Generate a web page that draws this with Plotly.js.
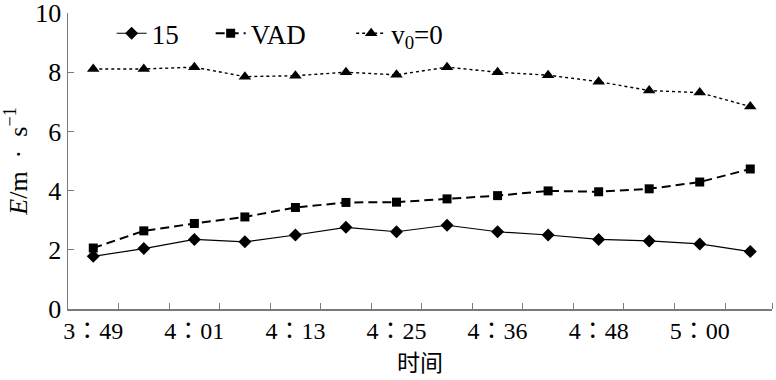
<!DOCTYPE html>
<html>
<head>
<meta charset="utf-8">
<script src="https://cdn.plot.ly/plotly-3.0.1.min.js"></script>
<style>html,body{margin:0;padding:0;background:#fff;}#chart{width:776px;height:380px;}</style>
</head>
<body>
<div id="chart"></div>
<script>
// time stamps of the 14 observations (every other one labelled on the axis)
const times = ['3∶49','3∶55','4∶01','4∶07','4∶13','4∶19','4∶25','4∶30','4∶36','4∶42','4∶48','4∶54','5∶00','5∶06'];
const series15 = [1.78, 2.04, 2.35, 2.27, 2.50, 2.76, 2.61, 2.83, 2.61, 2.50, 2.35, 2.30, 2.20, 1.94];
const seriesVAD = [2.06, 2.64, 2.89, 3.11, 3.43, 3.60, 3.61, 3.72, 3.83, 3.99, 3.96, 4.06, 4.29, 4.73];
const seriesV0 = [8.11, 8.11, 8.17, 7.85, 7.88, 8.00, 7.91, 8.17, 8.00, 7.90, 7.68, 7.38, 7.31, 6.84];
const names = ['15', 'VAD', 'v<sub>0</sub>=0'];

const xIdx = times.map((t, i) => i);
const labelIdx = xIdx.filter(i => i % 2 === 0);
const labelText = labelIdx.map(i => times[i]);
const boundaries = xIdx.slice(1).map(i => i - 0.5);
boundaries.push(13.43);

const FONT = 'Liberation Serif, Times New Roman, Noto Sans CJK SC, serif';
const AX = '#7a7a7a';
const PAD1 = '\u00a0\u00a0\u00a0\u00a0';
const PAD2 = '\u00a0\u00a0\u00a0\u00a0\u00a0\u00a0';

const traces = [
  {x: xIdx, y: series15, name: names[0] + PAD1, mode: 'lines+markers', type: 'scatter',
   line: {color: '#000', width: 1.2}, marker: {symbol: 'diamond', size: 10, color: '#000'}},
  {x: xIdx, y: seriesVAD, name: names[1] + PAD2, mode: 'lines+markers', type: 'scatter',
   line: {color: '#000', width: 2, dash: '9px,5px'}, marker: {symbol: 'square', size: 9, color: '#000'}},
  {x: xIdx, y: seriesV0, name: names[2], mode: 'lines+markers', type: 'scatter',
   line: {color: '#000', width: 1.4, dash: '3px,3px'}, marker: {symbol: 'triangle-up', size: 11, color: '#000'}}
];

const layout = {
  width: 776, height: 380,
  margin: {l: 68, r: 4, t: 13, b: 71},
  paper_bgcolor: '#fff', plot_bgcolor: '#fff',
  font: {family: FONT, size: 26, color: '#000'},
  showlegend: true,
  legend: {orientation: 'h', x: 0.062, y: 0.93, xanchor: 'left', yanchor: 'middle',
           bgcolor: 'rgba(0,0,0,0)', font: {family: FONT, size: 27, color: '#000'},
           itemwidth: 30, tracegroupgap: 0},
  xaxis: {
    range: [-0.5, 13.43], showgrid: false, zeroline: false,
    showline: true, linecolor: AX, linewidth: 1.5,
    tickmode: 'array', tickvals: labelIdx, ticktext: labelText, ticks: '',
    tickfont: {family: FONT, size: 24, color: '#000'},
    minor: {tickmode: 'array', tickvals: boundaries, ticks: 'inside', ticklen: 6, tickwidth: 1, tickcolor: AX, showgrid: false},
    title: {text: '时间', font: {family: 'Noto Sans CJK SC', size: 23, color: '#000'}, standoff: 8}
  },
  yaxis: {
    range: [0, 10], dtick: 2, showgrid: false, zeroline: false,
    showline: true, linecolor: AX, linewidth: 1.5,
    ticks: 'inside', ticklen: 6, tickwidth: 1, tickcolor: AX,
    ticklabeloverflow: 'allow',
    tickfont: {family: FONT, size: 26, color: '#000'},
    title: {text: '<i>E</i>/m\u00a0\u00a0·\u00a0\u00a0s<sup>−1</sup>', font: {family: FONT, size: 26, color: '#000'}, standoff: 4}
  }
};

Plotly.newPlot('chart', traces, layout, {displayModeBar: false, staticPlot: true});
</script>
</body>
</html>
